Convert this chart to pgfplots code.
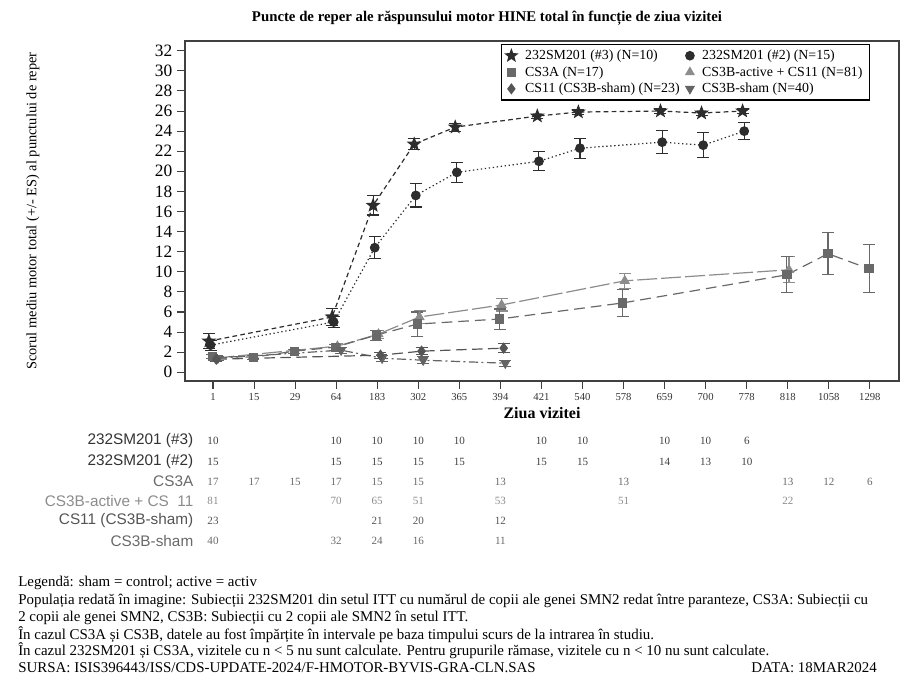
\documentclass[border=0pt]{standalone}
\usepackage{fontspec}
\setmainfont{Liberation Serif}
\newfontfamily\arialf{Liberation Sans}
\usepackage{pgfplots}
\pgfplotsset{compat=1.18}
\usepackage{pgfplotstable}
\usetikzlibrary{plotmarks}

\pgfdeclareplotmark{fstar}{%
  \pgfpathmoveto{\pgfpointpolar{90}{\pgfplotmarksize}}%
  \pgfpathlineto{\pgfpointpolar{126}{0.42\pgfplotmarksize}}%
  \pgfpathlineto{\pgfpointpolar{162}{\pgfplotmarksize}}%
  \pgfpathlineto{\pgfpointpolar{198}{0.42\pgfplotmarksize}}%
  \pgfpathlineto{\pgfpointpolar{234}{\pgfplotmarksize}}%
  \pgfpathlineto{\pgfpointpolar{270}{0.42\pgfplotmarksize}}%
  \pgfpathlineto{\pgfpointpolar{306}{\pgfplotmarksize}}%
  \pgfpathlineto{\pgfpointpolar{342}{0.42\pgfplotmarksize}}%
  \pgfpathlineto{\pgfpointpolar{18}{\pgfplotmarksize}}%
  \pgfpathlineto{\pgfpointpolar{54}{0.42\pgfplotmarksize}}%
  \pgfpathclose\pgfusepathqfillstroke}

\definecolor{cA}{RGB}{45,45,45}
\definecolor{cSq}{RGB}{105,105,105}
\definecolor{cTri}{RGB}{140,140,140}
\definecolor{cDia}{RGB}{85,85,85}
\definecolor{cDn}{RGB}{100,100,100}

\pgfplotstableread{
x y e
-0.10 3.1 0.75
2.90 5.5 0.85
3.90 16.6 0.95
4.90 22.7 0.55
5.90 24.4 0.40
7.90 25.5 0.20
8.90 25.9 0.20
10.90 26.0 0.20
11.90 25.8 0.20
12.90 26.0 0.20
}\sStar
\pgfplotstableread{
x y e
-0.06 2.7 0.50
2.94 5.0 0.55
3.94 12.4 1.10
4.94 17.6 1.15
5.94 19.9 1.00
7.94 21.0 0.95
8.94 22.3 1.00
10.94 22.9 1.15
11.94 22.6 1.25
12.94 24.0 0.85
}\sCirc
\pgfplotstableread{
x y e
-0.02 1.6 0.20
0.98 1.5 0.20
1.98 2.1 0.20
2.98 2.5 0.30
3.98 3.7 0.50
4.98 4.8 1.20
6.98 5.3 1.00
9.98 6.9 1.35
13.98 9.7 1.80
14.98 11.8 2.10
15.98 10.3 2.40
}\sSq
\pgfplotstableread{
x y e
0.03 1.4 0.20
3.03 2.6 0.30
4.03 3.8 0.40
5.03 5.5 0.60
7.03 6.7 0.60
10.03 9.1 0.75
14.03 10.2 1.30
}\sTri
\pgfplotstableread{
x y e
0.08 1.3 0.20
4.08 1.7 0.30
5.08 2.1 0.35
7.08 2.4 0.45
}\sDia
\pgfplotstableread{
x y e
0.12 1.4 0.20
3.12 2.2 0.30
4.12 1.4 0.30
5.12 1.2 0.35
7.12 0.9 0.30
}\sDn

\begin{document}
\begin{tikzpicture}
\path[use as bounding box] (0,0) rectangle (690pt,-507pt);
\begin{axis}[
  at={(138.75pt,-30.75pt)}, anchor=north west,
  scale only axis, width=535.5pt, height=255pt,
  xmin=-0.682, xmax=16.71, ymin=-0.87, ymax=32.97,
  xtick={0,...,16},
  xticklabels={1,15,29,64,183,302,365,394,421,540,578,659,700,778,818,1058,1298},
  ytick={0,2,...,32},
  tick pos=left, tick align=outside, major tick length=6pt,
  axis line style={draw=black!75, line width=0.9pt},
  every tick/.style={draw=black!75, line width=0.8pt},
  x tick label style={font=\fontsize{8}{9}\selectfont, text=black!80},
  y tick label style={font=\fontsize{13}{14}\selectfont},
  /pgf/number format/assume math mode=true,
  xlabel={\textbf{Ziua vizitei}},
  xlabel style={font=\fontsize{12}{13}\selectfont, at={(axis description cs:0.5,-0.094)}, anchor=center},
  ylabel={Scorul mediu motor total (+/- ES) al punctului de reper},
  ylabel style={font=\fontsize{10.8}{12}\selectfont, at={(axis description cs:-0.213,0.5)}, anchor=center},
  clip=false,
  legend columns=2, legend cell align=left,
  legend style={at={(axis description cs:0.959,0.991)}, anchor=north east,
    draw=black, line width=0.8pt, font=\fontsize{10.4}{12}\selectfont,
    inner xsep=3pt, inner ysep=2pt, row sep=-0.3pt,
    /tikz/every odd column/.append style={column sep=4pt},
    /tikz/every even column/.append style={column sep=2.5pt}},
  error bars/y dir=both, error bars/y explicit,
  error bars/error bar style={solid, line width=0.8pt},
  error bars/error mark options={rotate=90, mark size=4.5pt, line width=0.8pt},
]
\addlegendimage{only marks, mark=fstar, cA, mark size=4.6pt}
\addlegendentry{232SM201 (\#3) (N=10)}
\addlegendimage{only marks, mark=*, cA, mark size=3.2pt}
\addlegendentry{232SM201 (\#2) (N=15)}
\addlegendimage{only marks, mark=square*, cSq, mark size=3pt}
\addlegendentry{CS3A (N=17)}
\addlegendimage{only marks, mark=triangle*, cTri, mark size=3.6pt}
\addlegendentry{CS3B-active + CS11 (N=81)}
\addlegendimage{only marks, mark=diamond*, cDia, mark size=3.6pt}
\addlegendentry{CS11 (CS3B-sham) (N=23)}
\addlegendimage{only marks, mark=triangle*, cDn, mark size=3.6pt, mark options={rotate=180}}
\addlegendentry{CS3B-sham (N=40)}

\addplot[forget plot, cTri, line width=0.9pt, dash pattern=on 15pt off 3pt, mark=triangle*, mark size=3.6pt, mark options={solid}] table[x=x,y=y,y error=e] {\sTri};
\addplot[forget plot, cSq, line width=0.9pt, dash pattern=on 8pt off 4.5pt, mark=square*, mark size=3pt, mark options={solid}] table[x=x,y=y,y error=e] {\sSq};
\addplot[forget plot, cDn, line width=0.9pt, dash pattern=on 7pt off 2.5pt on 1.5pt off 2.5pt, mark=triangle*, mark size=3.6pt, mark options={solid, rotate=180}] table[x=x,y=y,y error=e] {\sDn};
\addplot[forget plot, cDia, line width=0.9pt, dash pattern=on 8pt off 4pt, mark=diamond*, mark size=3.6pt, mark options={solid}] table[x=x,y=y,y error=e] {\sDia};
\addplot[forget plot, cA, line width=0.9pt, dash pattern=on 1pt off 2pt, mark=*, mark size=3.2pt, mark options={solid}] table[x=x,y=y,y error=e] {\sCirc};
\addplot[forget plot, cA, line width=0.9pt, dash pattern=on 3.5pt off 2.5pt, mark=fstar, mark size=4.6pt, mark options={solid}] table[x=x,y=y,y error=e] {\sStar};
\end{axis}

\begin{scope}[x=0.75pt, y=-0.75pt]
\node[font=\bfseries\fontsize{11.1}{13}\selectfont] at (487,18) {Puncte de reper ale răspunsului motor HINE total în funcție de ziua vizitei};

% at-risk table
\def\rf{\arialf\fontsize{11.5}{13}\selectfont}
\def\nf{\fontsize{8.3}{9}\selectfont}
\node[anchor=east, font=\rf, text=black!80] at (198,441) {232SM201 (\#3)};
\node[anchor=east, font=\rf, text=black!80] at (198,461.5) {232SM201 (\#2)};
\node[anchor=east, font=\rf, text=cSq] at (198,481.5) {CS3A};
\node[anchor=east, font=\rf, text=cTri] at (198,501) {CS3B-active + CS\ \ 11};
\node[anchor=east, font=\rf, text=cDia] at (198,521) {CS11 (CS3B-sham)};
\node[anchor=east, font=\rf, text=cSq] at (198,541) {CS3B-sham};

\foreach \i/\v in {0/10,3/10,4/10,5/10,6/10,8/10,9/10,11/10,12/10,13/6}
  \node[font=\nf, text=black!75] at ({213+41.06*\i},441) {\v};
\foreach \i/\v in {0/15,3/15,4/15,5/15,6/15,8/15,9/15,11/14,12/13,13/10}
  \node[font=\nf, text=black!75] at ({213+41.06*\i},461.5) {\v};
\foreach \i/\v in {0/17,1/17,2/15,3/17,4/15,5/15,7/13,10/13,14/13,15/12,16/6}
  \node[font=\nf, text=cSq] at ({213+41.06*\i},481.5) {\v};
\foreach \i/\v in {0/81,3/70,4/65,5/51,7/53,10/51,14/22}
  \node[font=\nf, text=cTri] at ({213+41.06*\i},501) {\v};
\foreach \i/\v in {0/23,4/21,5/20,7/12}
  \node[font=\nf, text=cDia] at ({213+41.06*\i},521) {\v};
\foreach \i/\v in {0/40,3/32,4/24,5/16,7/11}
  \node[font=\nf, text=cSq] at ({213+41.06*\i},541) {\v};

% footnotes
\def\ff{\fontsize{11.2}{12}\selectfont}
\node[anchor=west, font=\ff, inner sep=0pt] at (18,583) {Legendă: sham = control; active = activ};
\node[anchor=west, font=\ff, inner sep=0pt] at (18,600.5) {Populația redată în imagine: Subiecții 232SM201 din setul ITT cu numărul de copii ale genei SMN2 redat între paranteze, CS3A: Subiecții cu};
\node[anchor=west, font=\ff, inner sep=0pt] at (18,617.5) {2 copii ale genei SMN2, CS3B: Subiecții cu 2 copii ale SMN2 în setul ITT.};
\node[anchor=west, font=\ff, inner sep=0pt] at (18,634.5) {În cazul CS3A și CS3B, datele au fost împărțite în intervale pe baza timpului scurs de la intrarea în studiu.};
\node[anchor=west, font=\ff, inner sep=0pt] at (18,651) {În cazul 232SM201 și CS3A, vizitele cu n < 5 nu sunt calculate. Pentru grupurile rămase, vizitele cu n < 10 nu sunt calculate.};
\node[anchor=west, font=\ff, inner sep=0pt] at (18,667.5) {SURSA: ISIS396443/ISS/CDS-UPDATE-2024/F-HMOTOR-BYVIS-GRA-CLN.SAS};
\node[anchor=east, font=\ff, inner sep=0pt] at (877,667.5) {DATA: 18MAR2024};
\end{scope}
\end{tikzpicture}
\end{document}
